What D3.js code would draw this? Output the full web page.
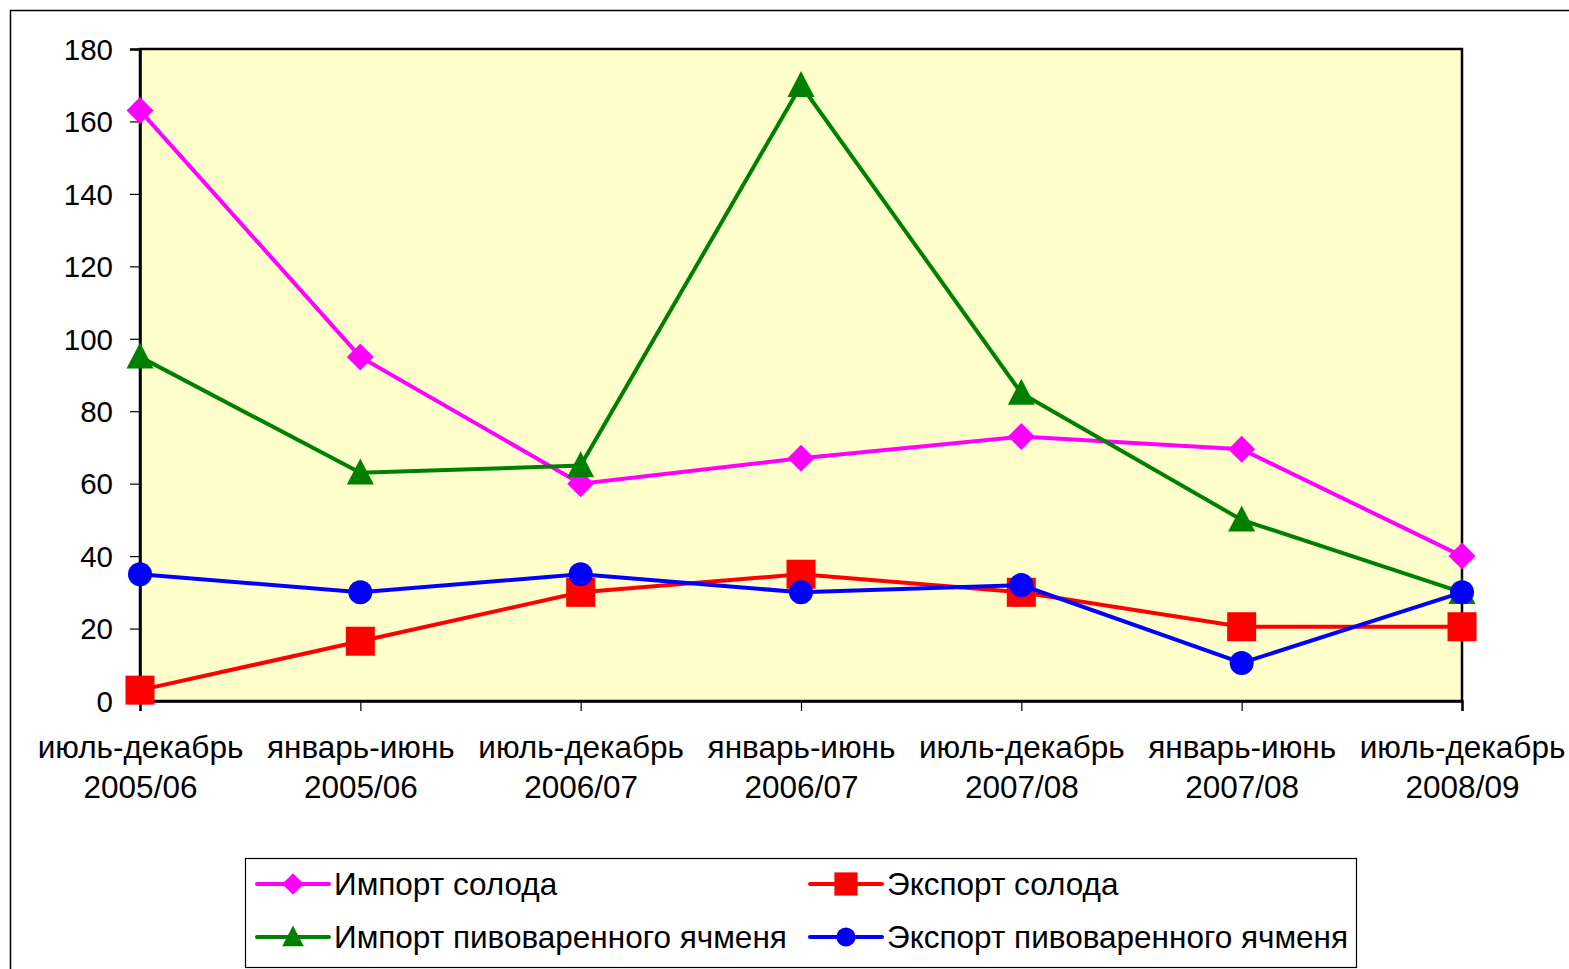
<!DOCTYPE html>
<html><head><meta charset="utf-8">
<script src="https://cdn.jsdelivr.net/npm/d3@7"></script>
<style>html,body{margin:0;padding:0;background:#fff;}svg{display:block;font-family:"Liberation Sans",Arial,sans-serif;}</style>
</head><body>
<svg id="c" width="1569" height="969"></svg>
<script>
const categories = [
  ["июль-декабрь","2005/06"],
  ["январь-июнь","2005/06"],
  ["июль-декабрь","2006/07"],
  ["январь-июнь","2006/07"],
  ["июль-декабрь","2007/08"],
  ["январь-июнь","2007/08"],
  ["июль-декабрь","2008/09"]
];
const importMalt = [163, 95, 60, 67, 73, 69.5, 40];
const exportMalt = [3, 16.5, 30, 35, 30, 20.5, 20.5];
const importBarley = [95, 63, 65, 170, 85, 50, 30];
const exportBarley = [35, 30, 35, 30, 32, 10.5, 30];
const yTicks = [0, 20, 40, 60, 80, 100, 120, 140, 160, 180];
const seriesNames = ["Импорт солода","Экспорт солода","Импорт пивоваренного ячменя","Экспорт пивоваренного ячменя"];
const seriesColors = ["#FF00FF","#FF0000","#008000","#0000FF"];
const seriesSymbols = ["diamond","square","triangle","circle"];

const series = [importMalt, exportMalt, importBarley, exportBarley].map((v,i)=>({
  name: seriesNames[i], values: v, color: seriesColors[i], symbol: seriesSymbols[i]
}));

const svg = d3.select("#c");
const L = 140, T = 49, R = 1462, B = 701;
const FONT = "Liberation Sans, Arial, sans-serif";

svg.append("rect").attr("x",10.5).attr("y",10.5).attr("width",1600).attr("height",1000)
  .attr("fill","#fff").attr("stroke","#000").attr("stroke-width",1.5);

const x = d3.scalePoint().domain(d3.range(categories.length)).range([L, R]);
const y = d3.scaleLinear().domain([0,180]).range([B, T]);

svg.append("rect").attr("x",L).attr("y",T).attr("width",R-L).attr("height",B-T)
  .attr("fill","#FFFFCC").attr("stroke","#000").attr("stroke-width",2.5);

const ya = svg.append("g").attr("transform",`translate(${L},0)`)
  .call(d3.axisLeft(y).tickValues(yTicks).tickSize(10).tickPadding(17).tickFormat(d3.format("d")));
ya.select(".domain").attr("stroke","#000").attr("stroke-width",2.5);
ya.selectAll(".tick line").attr("stroke","#000").attr("stroke-width",1.2);
ya.selectAll(".tick text").attr("font-size",29.5).attr("fill","#000").attr("font-family",FONT).attr("dy","0.35em");

const xa = svg.append("g").attr("transform",`translate(0,${B})`)
  .call(d3.axisBottom(x).tickSize(10).tickFormat(""));
xa.select(".domain").attr("stroke","#000").attr("stroke-width",2.5);
xa.selectAll(".tick line").attr("stroke","#000").attr("stroke-width",1.2);
xa.selectAll(".tick").each(function(d){
  const g = d3.select(this);
  g.selectAll("text").remove();
  const t = g.append("text").attr("text-anchor","middle").attr("fill","#000")
    .attr("font-size",31.5).attr("font-family",FONT);
  t.append("tspan").attr("x",0).attr("y",57).text(categories[d][0]);
  t.append("tspan").attr("x",0).attr("y",97).text(categories[d][1]);
});

function drawSymbol(g, type, cx, cy, color, scale) {
  scale = scale || 1;
  if (type === "diamond") {
    const r = 13.5*scale;
    g.append("path").attr("d",`M${cx},${cy-r}L${cx+r},${cy}L${cx},${cy+r}L${cx-r},${cy}Z`).attr("fill",color);
  } else if (type === "square") {
    const s = 29*scale;
    g.append("rect").attr("x",cx-s/2).attr("y",cy-s/2).attr("width",s).attr("height",s).attr("fill",color);
  } else if (type === "triangle") {
    const w = 27*scale, h = 26*scale;
    g.append("path").attr("d",`M${cx},${cy-h*0.55}L${cx+w/2},${cy+h*0.45}L${cx-w/2},${cy+h*0.45}Z`).attr("fill",color);
  } else {
    g.append("circle").attr("cx",cx).attr("cy",cy).attr("r",12*scale).attr("fill",color);
  }
}

const line = d3.line().x((d,i)=>x(i)).y(d=>y(d));
series.forEach(s=>{
  const g = svg.append("g");
  g.append("path").attr("d",line(s.values)).attr("fill","none").attr("stroke",s.color).attr("stroke-width",4);
  s.values.forEach((v,i)=>drawSymbol(g, s.symbol, x(i), y(v), s.color, 1));
});

const lg = svg.append("g");
lg.append("rect").attr("x",245.5).attr("y",858.5).attr("width",1111).attr("height",109)
  .attr("fill","#fff").attr("stroke","#000").attr("stroke-width",1.2);
const legendPos = [[257,884],[810,884],[257,937],[810,937]];
series.forEach((s,i)=>{
  const [lx,ly] = legendPos[i];
  lg.append("line").attr("x1",lx).attr("x2",lx+72).attr("y1",ly).attr("y2",ly)
    .attr("stroke",s.color).attr("stroke-width",4).attr("stroke-linecap","round");
  drawSymbol(lg, s.symbol, lx+36, ly, s.color, 0.8);
  lg.append("text").attr("x",lx+77).attr("y",ly).attr("dy","0.35em").attr("font-size",31.5)
    .attr("font-family",FONT).attr("fill","#000").text(s.name);
});
</script>
</body></html>
